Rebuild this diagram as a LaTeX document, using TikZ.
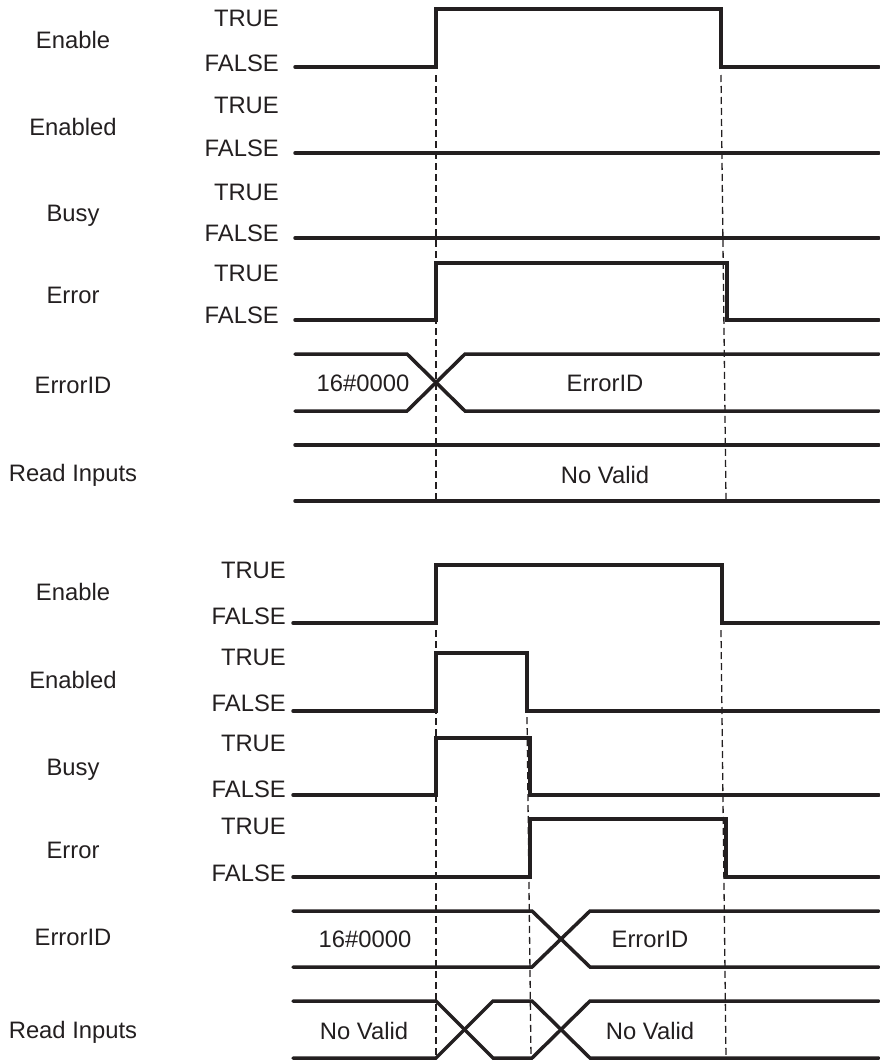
\documentclass[tikz,border=0pt]{standalone}
\usepackage{fontspec}
\setmainfont{Liberation Sans}
\definecolor{ink}{HTML}{231F20}
\begin{document}
\begin{tikzpicture}[x=1pt,y=-1pt,
  sig/.style={draw=ink,line width=3.5pt,line cap=round,line join=miter},
  guide/.style={draw=ink,line width=1.3pt,dash pattern=on 7pt off 4pt},
  txt/.style={text=ink,font=\fontsize{23.8}{26}\selectfont,inner sep=0pt,text height=17pt,text depth=0pt},
  lvl/.style={txt,anchor=east},
  nm/.style={txt,anchor=center}]
\useasboundingbox (0,0) rectangle (879,1060);

% ---------- top chart ----------
\node[nm] (t-en) at (73,40) {Enable};
\node[nm] (t-ed) at (73,127) {Enabled};
\node[nm] (t-bu) at (73,213) {Busy};
\node[nm] (t-er) at (73,295) {Error};
\node[nm] (t-id) at (73,385) {ErrorID};
\node[nm] (t-ri) at (73,473) {Read Inputs};

\node[lvl] (t-en-t) at (279,18) {TRUE};
\node[lvl] (t-en-f) at (279,63) {FALSE};
\node[lvl] (t-ed-t) at (279,105) {TRUE};
\node[lvl] (t-ed-f) at (279,148) {FALSE};
\node[lvl] (t-bu-t) at (279,192) {TRUE};
\node[lvl] (t-bu-f) at (279,233) {FALSE};
\node[lvl] (t-er-t) at (279,273) {TRUE};
\node[lvl] (t-er-f) at (279,315) {FALSE};

\draw[guide] (436,75) -- (436,501);
\draw[guide] (721,75) -- (726,501);

\draw[sig] (295,67) -- (436,67) -- (436,9) -- (721,9) -- (721,67) -- (879,67);
\draw[sig] (295,153) -- (879,153);
\draw[sig] (295,238) -- (879,238);
\draw[sig] (295,320) -- (436,320) -- (436,263) -- (727,263) -- (727,320) -- (879,320);
\draw[sig] (295,354) -- (407,354) -- (465,411) -- (879,411);
\draw[sig] (295,411) -- (407,411) -- (465,354) -- (879,354);
\draw[sig] (295,445) -- (879,445);
\draw[sig] (295,501) -- (879,501);

\node[nm] (t-v0) at (363,383) {16\#0000};
\node[nm] (t-v1) at (605,383) {ErrorID};
\node[nm] (t-v2) at (605,475) {No Valid};

% ---------- bottom chart ----------
\node[nm] (b-en) at (73,592) {Enable};
\node[nm] (b-ed) at (73,680) {Enabled};
\node[nm] (b-bu) at (73,767) {Busy};
\node[nm] (b-er) at (73,850) {Error};
\node[nm] (b-id) at (73,937) {ErrorID};
\node[nm] (b-ri) at (73,1030) {Read Inputs};

\node[lvl] (b-en-t) at (286,570) {TRUE};
\node[lvl] (b-en-f) at (286,616) {FALSE};
\node[lvl] (b-ed-t) at (286,657) {TRUE};
\node[lvl] (b-ed-f) at (286,703) {FALSE};
\node[lvl] (b-bu-t) at (286,743) {TRUE};
\node[lvl] (b-bu-f) at (286,789) {FALSE};
\node[lvl] (b-er-t) at (286,826) {TRUE};
\node[lvl] (b-er-f) at (286,873) {FALSE};

\draw[guide] (436,630) -- (436,1058);
\draw[guide] (527,717) -- (531,1058);
\draw[guide] (721,630) -- (726,1058);

\draw[sig] (293,623) -- (436,623) -- (436,565) -- (722,565) -- (722,623) -- (879,623);
\draw[sig] (293,711) -- (436,711) -- (436,653) -- (527,653) -- (527,711) -- (879,711);
\draw[sig] (293,795) -- (436,795) -- (436,738) -- (530,738) -- (530,795) -- (879,795);
\draw[sig] (293,877) -- (530,877) -- (530,819) -- (726,819) -- (726,877) -- (879,877);
\draw[sig] (293,911) -- (532,911) -- (590,967) -- (879,967);
\draw[sig] (293,967) -- (532,967) -- (590,911) -- (879,911);
\draw[sig] (293,1001) -- (436,1001) -- (493,1058) -- (532,1058) -- (590,1001) -- (879,1001);
\draw[sig] (293,1058) -- (436,1058) -- (493,1001) -- (532,1001) -- (590,1058) -- (879,1058);

\node[nm] (b-v0) at (365,939) {16\#0000};
\node[nm] (b-v1) at (650,939) {ErrorID};
\node[nm] (b-v2) at (364,1031) {No Valid};
\node[nm] (b-v3) at (650,1031) {No Valid};
\end{tikzpicture}
\end{document}
